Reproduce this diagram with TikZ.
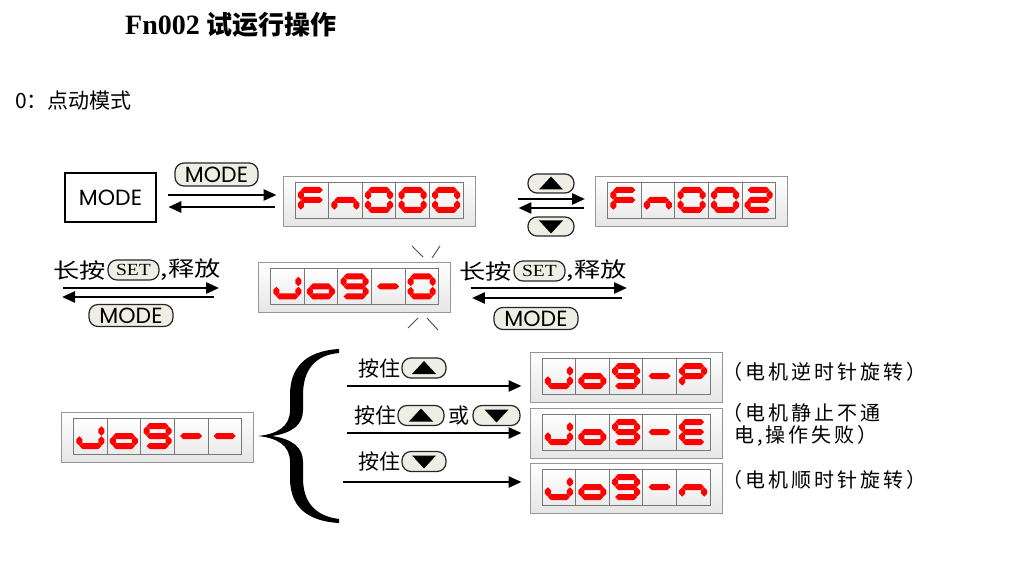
\documentclass[tikz,border=0pt]{standalone}
\usepackage{fontspec}
\setmainfont{Liberation Serif}
\newfontfamily\cjk{Noto Sans CJK SC}
\newfontfamily\cjksp{Noto Sans CJK SC}[LetterSpace=15]
\newfontfamily\modef{Poppins}
\usetikzlibrary{arrows.meta,calc}
\definecolor{dred}{RGB}{255,0,0}
\definecolor{pillfill}{RGB}{238,238,228}
\definecolor{dispborder}{RGB}{150,150,150}
\definecolor{cellborder}{RGB}{120,120,120}

% seven-segment pieces (local coords, y down)
\newcommand\Hs[1]{\fill[dred] (-11,#1) -- (-8,{#1-3}) -- (8,{#1-3}) -- (11,#1) -- (8,{#1+3}) -- (-8,{#1+3}) -- cycle;}
\newcommand\Vs[3]{\fill[dred] (#1,#2) -- ({#1+3},{#2+3}) -- ({#1+3},{#3-3}) -- (#1,#3) -- ({#1-3},{#3-3}) -- ({#1-3},{#2+3}) -- cycle;}
\newcommand\SegA{\Hs{-10}}
\newcommand\SegG{\Hs{0}}
\newcommand\SegD{\Hs{10}}
\newcommand\SegB{\Vs{11}{-9.7}{-0.3}}
\newcommand\SegC{\Vs{11}{0.3}{9.7}}
\newcommand\SegE{\Vs{-11}{0.3}{9.7}}
\newcommand\SegF{\Vs{-11}{-9.7}{-0.3}}
\expandafter\def\csname gl-F\endcsname{\SegA\SegF\SegE\SegG}
\expandafter\def\csname gl-n\endcsname{\SegG\SegC\SegE}
\expandafter\def\csname gl-0\endcsname{\SegA\SegB\SegC\SegD\SegE\SegF}
\expandafter\def\csname gl-2\endcsname{\SegA\SegB\SegG\SegE\SegD}
\expandafter\def\csname gl-J\endcsname{\SegB\SegC\SegD\SegE}
\expandafter\def\csname gl-o\endcsname{\SegC\SegD\SegE\SegG}
\expandafter\def\csname gl-9\endcsname{\SegA\SegB\SegC\SegD\SegF\SegG}
\expandafter\def\csname gl--\endcsname{\SegG}
\expandafter\def\csname gl-P\endcsname{\SegA\SegB\SegE\SegF\SegG}
\expandafter\def\csname gl-E\endcsname{\SegA\SegD\SegE\SegF\SegG}

\newcommand\display[3]{%
  \node[disp] (#1) at (#2) {};
  \foreach \g [count=\k from 0] in {#3} {%
    \node[cellbox] at ($(#1.center)+({-67.2+33.6*\k},-1)$) {};
    \begin{scope}[shift={($(#1.center)+({-67.2+33.6*\k},-1)$)}]
      \csname gl-\g\endcsname
    \end{scope}
  }%
}
\newcommand\uptri[1]{\fill ($(#1.center)+(0,-7)$) -- ($(#1.center)+(12,6)$) -- ($(#1.center)+(-12,6)$) -- cycle;}
\newcommand\dntri[1]{\fill ($(#1.center)+(0,7)$) -- ($(#1.center)+(12,-6)$) -- ($(#1.center)+(-12,-6)$) -- cycle;}

\tikzset{
  arr/.style={line width=2.6pt, -{Triangle[length=13pt,width=11pt]}},
  pill/.style={draw=black!85, line width=1.2pt, fill=pillfill, rounded corners=9pt, inner sep=0pt, minimum height=20pt},
  disp/.style={draw=dispborder, line width=0.9pt, minimum width=192pt, minimum height=50pt, inner sep=0pt, top color=white, bottom color=black!10},
  cellbox/.style={draw=cellborder, line width=0.8pt, minimum width=33.6pt, minimum height=36pt, inner sep=0pt, top color=white, bottom color=black!8},
  modeboxst/.style={draw=black, line width=2.6pt, minimum width=91pt, minimum height=49pt, inner sep=0pt, fill=white},
  blink/.style={draw=black!70, line width=0.9pt},
  modetxt/.style={font=\modef\fontsize{22}{24}\selectfont},
  cjklab/.style={font=\cjk\fontsize{21}{24}\selectfont, inner sep=1pt},
  desc/.style={font=\cjksp\fontsize{20}{24}\selectfont, inner sep=0pt, anchor=west},
}

\begin{document}
\begin{tikzpicture}[x=1pt,y=-1pt]
\useasboundingbox (0,0) rectangle (1031,561);
\fill[white] (0,0) rectangle (1031,561);

% headings
\node[anchor=west, inner sep=0pt] (title) at (125,25) {\fontsize{28}{30}\selectfont\bfseries Fn002 {\cjk\fontsize{26}{30}\selectfont 试运行操作}};
\node[anchor=west, inner sep=0pt] (sub) at (15,101) {\cjk\fontsize{21}{24}\selectfont 0：点动模式};

% top row
\node[modeboxst, modetxt] (modebox) at (110.5,197.5) {MODE};
\node[pill, minimum width=83pt, minimum height=23pt, modetxt] (modep1) at (216.5,174.5) {MODE};
\display{fn000}{379,201}{F,n,0,0,0}
\display{fn002}{691.5,201}{F,n,0,0,2}
\draw[arr] ($(modebox.east|-fn000.west)+(11,-6)$) -- ($(fn000.west)+(-6,-6)$);
\draw[arr] ($(fn000.west)+(-8,6)$) -- ($(modebox.east|-fn000.west)+(11,6)$);
\node[pill, minimum width=46pt, minimum height=19pt] (upA) at (551,183.5) {};
\uptri{upA}
\node[pill, minimum width=46pt, minimum height=19pt] (dnA) at (551,226.5) {};
\dntri{dnA}
\draw[arr] ($(fn000.east)+(43,-2)$) -- ($(fn002.west)+(-10,-2)$);
\draw[arr] ($(fn002.west)+(-11,7)$) -- ($(fn000.east)+(43,7)$);

% second row
\display{jog0}{354.5,287.5}{J,o,9,-,0}
\draw[blink] (412,246) -- (423,257);
\draw[blink] (440,246) -- (432,258);
\draw[blink] (418,318) -- (408,328);
\draw[blink] (427,318) -- (438,330);

\node[pill, minimum width=51pt] (setL) at (133.5,270) {\scalebox{1.15}[1]{\fontsize{17}{18}\selectfont SET}};
\node[cjklab, anchor=east] (l2a) at (setL.west) {\scalebox{1.25}[1]{长按}};
\node[cjklab, anchor=west] (l2b) at (setL.east) {\scalebox{1.25}[1]{,释放}};
\node[pill, minimum width=84pt, minimum height=22pt, modetxt] (modeL) at (131,315.5) {MODE};
\coordinate (l2) at (62,292.5);
\draw[arr] ($(l2)+(1,-4.5)$) -- ($(jog0.west|-l2)+(-39,-4.5)$);
\draw[arr] ($(jog0.west|-l2)+(-44,4.5)$) -- ($(l2)+(0,4.5)$);

\node[pill, minimum width=51pt] (setR) at (539.5,271) {\scalebox{1.15}[1]{\fontsize{17}{18}\selectfont SET}};
\node[cjklab, anchor=east] (r2a) at (setR.west) {\scalebox{1.25}[1]{长按}};
\node[cjklab, anchor=west] (r2b) at (setR.east) {\scalebox{1.25}[1]{,释放}};
\node[pill, minimum width=84pt, minimum height=22pt, modetxt] (modeR) at (536,318.5) {MODE};
\coordinate (r2) at (628,293);
\draw[arr] ($(jog0.east|-r2)+(20,-5)$) -- ($(r2)+(-1,-5)$);
\draw[arr] ($(r2)+(-6,5)$) -- ($(jog0.east|-r2)+(21,5)$);

% third row
\display{jogd}{157.5,437}{J,o,9,-,-}
\fill (339,349) .. controls (305,351) and (290,368) .. (290,395) -- (290,410)
  .. controls (290,427) and (277,434) .. (258,436)
  .. controls (277,438) and (290,445) .. (290,462) -- (290,478)
  .. controls (290,505) and (305,521) .. (339,523) -- (339,519)
  .. controls (315,516) and (303,502) .. (303,478) -- (303,462)
  .. controls (303,447) and (292,439) .. (272,436)
  .. controls (292,433) and (303,425) .. (303,410) -- (303,395)
  .. controls (303,370) and (315,355) .. (339,353) -- cycle;
\coordinate (bb) at (340,436);

\display{jogP}{626,377}{J,o,9,-,P}
\display{jogE}{626,433}{J,o,9,-,E}
\display{jogN}{626,488}{J,o,9,-,n}

\node[pill, minimum width=44pt] (up1) at (424,368) {};
\uptri{up1}
\node[cjklab, anchor=east] (t1) at (up1.west) {按住};
\node[pill, minimum width=46pt] (up2) at (421,415.5) {};
\uptri{up2}
\node[cjklab, anchor=east] (t2) at (up2.west) {按住};
\node[pill, minimum width=47pt] (dn2) at (496.5,415.5) {};
\dntri{dn2}
\node[cjklab] (or2) at ($(up2.east)!0.5!(dn2.west)$) {或};
\node[pill, minimum width=44pt] (dn3) at (424,461.5) {};
\dntri{dn3}
\node[cjklab, anchor=east] (t3) at (dn3.west) {按住};

\draw[arr] ($(bb|-jogP.west)+(7,9)$) -- ($(jogP.west)+(-8,9)$);
\draw[arr] ($(bb|-jogE.west)+(7,0)$) -- ($(jogE.west)+(-8,0)$);
\draw[arr] ($(bb|-jogN.west)+(3,-6)$) -- ($(jogN.west)+(-8,-6)$);

\node[desc] (dP) at (722,372) {（电机逆时针旋转）};
\node[desc] (dE1) at (722,413) {（电机静止不通};
\node[desc] (dE2) at (734,436) {电,操作失败）};
\node[desc] (dN) at (722,480) {（电机顺时针旋转）};
\end{tikzpicture}
\end{document}
